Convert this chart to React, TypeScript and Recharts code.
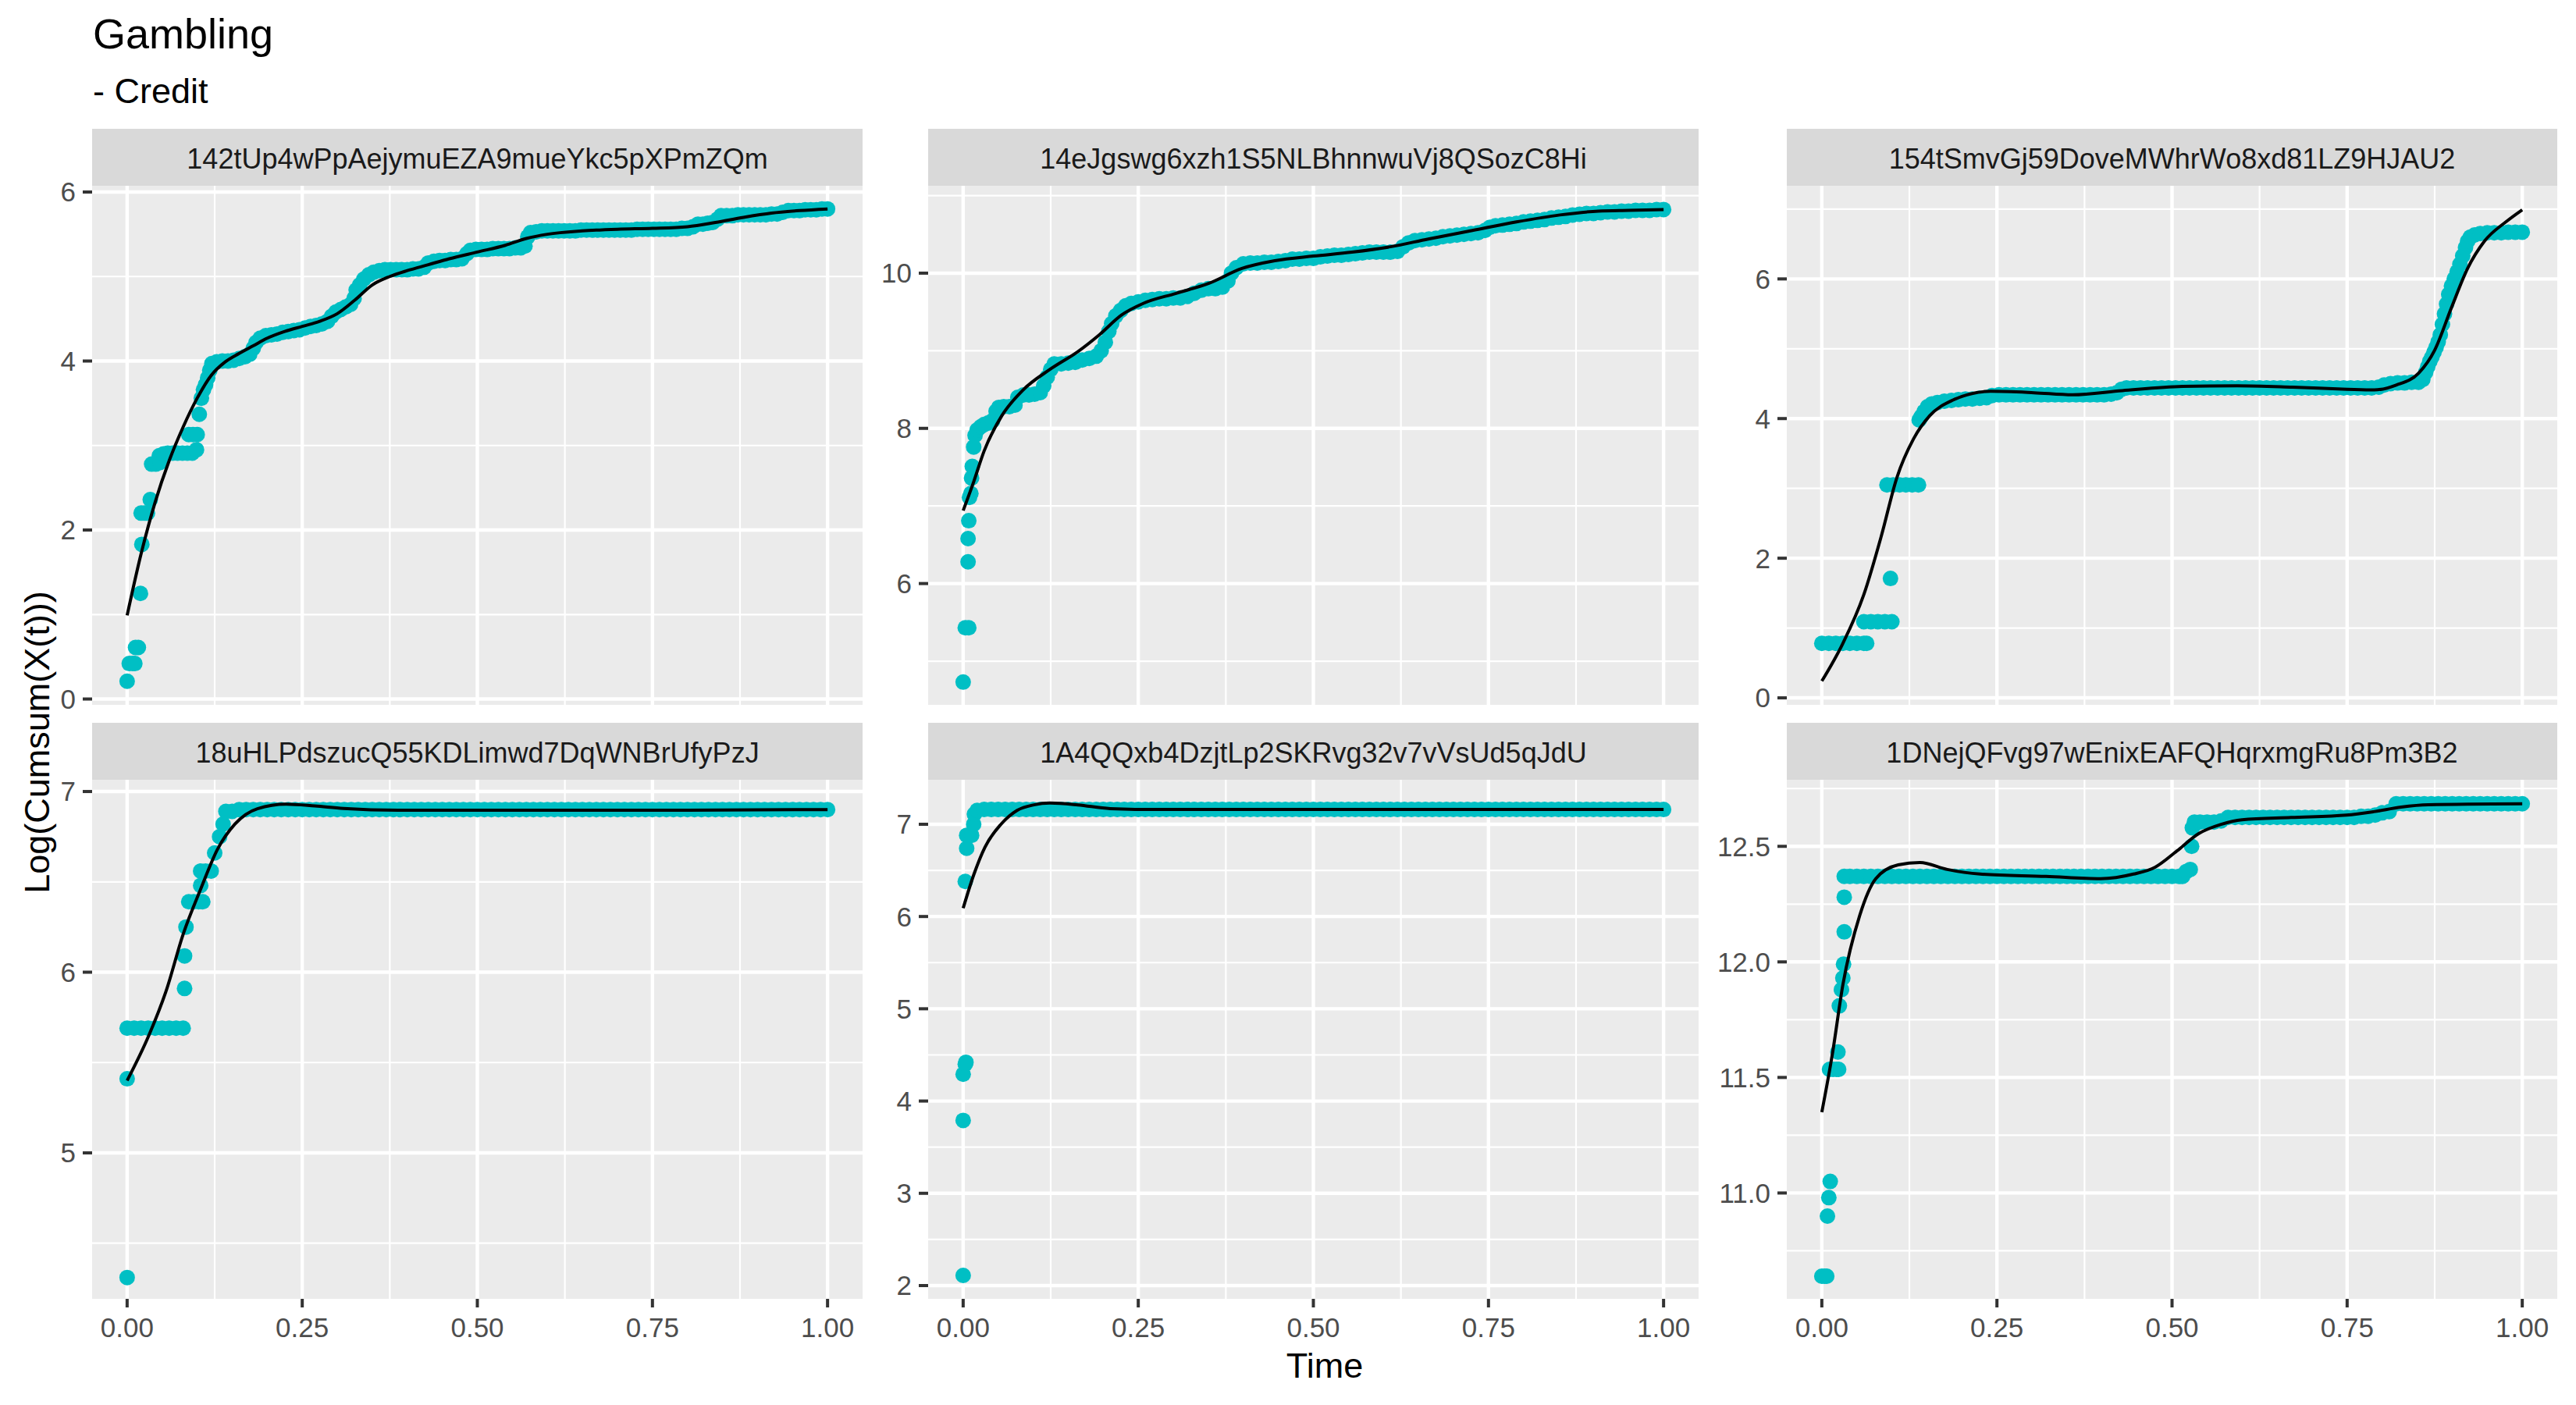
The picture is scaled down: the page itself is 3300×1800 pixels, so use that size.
import { ComposedChart, Scatter, Line, XAxis, YAxis, CartesianGrid } from "recharts"

type Pair = [number, number]

const walletIds = [
  "142tUp4wPpAejymuEZA9mueYkc5pXPmZQm",
  "14eJgswg6xzh1S5NLBhnnwuVj8QSozC8Hi",
  "154tSmvGj59DoveMWhrWo8xd81LZ9HJAU2",
  "18uHLPdszucQ55KDLimwd7DqWNBrUfyPzJ",
  "1A4QQxb4DzjtLp2SKRvg32v7vVsUd5qJdU",
  "1DNejQFvg97wEnixEAFQHqrxmgRu8Pm3B2",
]

// observed log cumulative sums, [time, value]
const pts142: Pair[] = [
  [0, 0.21], [0.003, 0.42], [0.008, 0.42], [0.011, 0.42], [0.012, 0.61], [0.016, 0.61], [0.019, 1.25], [0.021, 1.83],
  [0.02, 2.2], [0.025, 2.2], [0.029, 2.2], [0.033, 2.36], [0.035, 2.78], [0.041, 2.78], [0.047, 2.8], [0.046, 2.88],
  [0.052, 2.9], [0.058, 2.91], [0.065, 2.91], [0.072, 2.91], [0.079, 2.91], [0.086, 2.91], [0.093, 2.91], [0.099, 2.95],
  [0.088, 3.13], [0.094, 3.13], [0.1, 3.13], [0.103, 3.37], [0.106, 3.56], [0.109, 3.66], [0.112, 3.72], [0.115, 3.8],
  [0.118, 3.89], [0.121, 3.97], [0.128, 3.99], [0.136, 4.0], [0.144, 4.0], [0.152, 4.01], [0.16, 4.03], [0.168, 4.05],
  [0.175, 4.08], [0.18, 4.15], [0.184, 4.22], [0.19, 4.27], [0.198, 4.3], [0.206, 4.31], [0.214, 4.32], [0.222, 4.34],
  [0.23, 4.35], [0.238, 4.36], [0.246, 4.37], [0.254, 4.39], [0.262, 4.41], [0.27, 4.42], [0.278, 4.44], [0.286, 4.47],
  [0.292, 4.53], [0.298, 4.58], [0.305, 4.61], [0.312, 4.64], [0.319, 4.67], [0.324, 4.74], [0.327, 4.84], [0.332, 4.9],
  [0.338, 4.97], [0.345, 5.02], [0.352, 5.05], [0.36, 5.07], [0.368, 5.08], [0.376, 5.08], [0.384, 5.08], [0.392, 5.08],
  [0.4, 5.08], [0.408, 5.09], [0.416, 5.09], [0.424, 5.11], [0.43, 5.16], [0.438, 5.18], [0.446, 5.19], [0.454, 5.19],
  [0.462, 5.2], [0.47, 5.2], [0.478, 5.21], [0.485, 5.27], [0.49, 5.31], [0.498, 5.32], [0.506, 5.32], [0.514, 5.32],
  [0.522, 5.33], [0.53, 5.33], [0.538, 5.33], [0.546, 5.33], [0.554, 5.34], [0.562, 5.34], [0.568, 5.36], [0.572, 5.47],
  [0.576, 5.52], [0.584, 5.53], [0.592, 5.54], [0.6, 5.54], [0.608, 5.54], [0.616, 5.54], [0.624, 5.54], [0.632, 5.54],
  [0.64, 5.54], [0.648, 5.55], [0.656, 5.55], [0.664, 5.55], [0.672, 5.55], [0.68, 5.55], [0.688, 5.55], [0.696, 5.55],
  [0.704, 5.55], [0.712, 5.55], [0.72, 5.55], [0.728, 5.56], [0.736, 5.56], [0.744, 5.56], [0.752, 5.56], [0.76, 5.56],
  [0.768, 5.56], [0.776, 5.56], [0.784, 5.56], [0.792, 5.57], [0.8, 5.57], [0.808, 5.59], [0.815, 5.62], [0.822, 5.62],
  [0.829, 5.63], [0.836, 5.64], [0.843, 5.68], [0.848, 5.72], [0.856, 5.72], [0.864, 5.72], [0.872, 5.73], [0.88, 5.73],
  [0.888, 5.73], [0.896, 5.73], [0.904, 5.73], [0.912, 5.73], [0.92, 5.74], [0.928, 5.74], [0.936, 5.76], [0.944, 5.78],
  [0.952, 5.78], [0.96, 5.78], [0.968, 5.79], [0.976, 5.79], [0.984, 5.79], [0.992, 5.8], [1, 5.8],
]

const pts14e: Pair[] = [
  [0, 4.73], [0.003, 5.43], [0.008, 5.43], [0.007, 6.28], [0.007, 6.58], [0.008, 6.81], [0.009, 7.11], [0.011, 7.16],
  [0.012, 7.36], [0.013, 7.51], [0.015, 7.76], [0.017, 7.91], [0.02, 7.98], [0.025, 8.02], [0.03, 8.05], [0.036, 8.07],
  [0.042, 8.1], [0.047, 8.22], [0.051, 8.27], [0.058, 8.28], [0.066, 8.28], [0.074, 8.3], [0.078, 8.4], [0.086, 8.43],
  [0.094, 8.43], [0.102, 8.44], [0.11, 8.46], [0.115, 8.55], [0.12, 8.66], [0.125, 8.76], [0.13, 8.83], [0.14, 8.83],
  [0.15, 8.84], [0.16, 8.85], [0.17, 8.88], [0.18, 8.9], [0.19, 8.93], [0.197, 9.0], [0.203, 9.11], [0.208, 9.25],
  [0.212, 9.35], [0.218, 9.45], [0.225, 9.52], [0.232, 9.58], [0.24, 9.61], [0.25, 9.63], [0.26, 9.65], [0.27, 9.66],
  [0.28, 9.67], [0.29, 9.67], [0.3, 9.68], [0.31, 9.68], [0.32, 9.7], [0.33, 9.74], [0.34, 9.78], [0.35, 9.8],
  [0.36, 9.8], [0.37, 9.82], [0.378, 9.9], [0.383, 10.0], [0.39, 10.07], [0.4, 10.12], [0.41, 10.13], [0.42, 10.13],
  [0.43, 10.14], [0.44, 10.14], [0.45, 10.15], [0.46, 10.16], [0.47, 10.18], [0.48, 10.18], [0.49, 10.19], [0.5, 10.19],
  [0.51, 10.21], [0.52, 10.22], [0.53, 10.23], [0.54, 10.23], [0.55, 10.24], [0.56, 10.25], [0.57, 10.26], [0.58, 10.27],
  [0.59, 10.27], [0.6, 10.27], [0.61, 10.27], [0.62, 10.28], [0.628, 10.34], [0.636, 10.39], [0.645, 10.42], [0.655, 10.43],
  [0.665, 10.44], [0.675, 10.45], [0.685, 10.47], [0.695, 10.48], [0.705, 10.49], [0.715, 10.5], [0.725, 10.51], [0.735, 10.52],
  [0.745, 10.55], [0.752, 10.59], [0.76, 10.61], [0.77, 10.62], [0.78, 10.63], [0.79, 10.64], [0.8, 10.66], [0.81, 10.67],
  [0.82, 10.68], [0.83, 10.69], [0.84, 10.71], [0.85, 10.72], [0.86, 10.73], [0.87, 10.75], [0.88, 10.76], [0.89, 10.77],
  [0.9, 10.77], [0.91, 10.78], [0.92, 10.79], [0.93, 10.79], [0.94, 10.8], [0.95, 10.8], [0.96, 10.81], [0.97, 10.81],
  [0.98, 10.81], [0.99, 10.82], [1, 10.82],
]

const pts154: Pair[] = [
  [0, 0.78], [0.01, 0.78], [0.02, 0.78], [0.03, 0.78], [0.04, 0.78], [0.05, 0.78], [0.06, 0.78], [0.064, 0.78],
  [0.06, 1.09], [0.07, 1.09], [0.08, 1.09], [0.09, 1.09], [0.1, 1.09], [0.098, 1.71],
  [0.093, 3.05], [0.102, 3.05], [0.111, 3.05], [0.12, 3.05], [0.129, 3.05], [0.138, 3.05],
  [0.139, 3.98], [0.142, 4.03], [0.146, 4.1], [0.151, 4.17], [0.157, 4.21], [0.165, 4.23], [0.175, 4.25], [0.185, 4.26],
  [0.195, 4.27], [0.205, 4.28], [0.215, 4.28], [0.225, 4.29], [0.235, 4.3], [0.243, 4.33], [0.253, 4.34], [0.263, 4.34],
  [0.273, 4.34], [0.283, 4.34], [0.293, 4.34], [0.303, 4.34], [0.313, 4.34], [0.323, 4.34], [0.333, 4.34], [0.343, 4.34],
  [0.353, 4.34], [0.363, 4.34], [0.373, 4.34], [0.383, 4.34], [0.393, 4.34], [0.403, 4.34], [0.413, 4.35], [0.421, 4.37],
  [0.428, 4.42], [0.435, 4.44], [0.445, 4.44], [0.455, 4.44], [0.465, 4.44], [0.475, 4.44], [0.485, 4.44], [0.495, 4.44],
  [0.505, 4.44], [0.515, 4.44], [0.525, 4.44], [0.535, 4.44], [0.545, 4.44], [0.555, 4.44], [0.565, 4.44], [0.575, 4.44],
  [0.585, 4.44], [0.595, 4.44], [0.605, 4.44], [0.615, 4.44], [0.625, 4.44], [0.635, 4.44], [0.645, 4.44], [0.655, 4.44],
  [0.665, 4.44], [0.675, 4.44], [0.685, 4.44], [0.695, 4.44], [0.705, 4.44], [0.715, 4.44], [0.725, 4.44], [0.735, 4.44],
  [0.745, 4.44], [0.755, 4.44], [0.765, 4.44], [0.775, 4.44], [0.785, 4.44], [0.795, 4.45], [0.803, 4.48], [0.812, 4.5],
  [0.822, 4.51], [0.832, 4.51], [0.842, 4.52], [0.852, 4.52], [0.858, 4.56], [0.862, 4.66], [0.865, 4.74], [0.868, 4.82],
  [0.871, 4.88], [0.874, 4.95], [0.877, 5.02], [0.88, 5.1], [0.883, 5.2], [0.886, 5.35], [0.889, 5.5], [0.892, 5.64],
  [0.895, 5.78], [0.899, 5.9], [0.903, 6.0], [0.907, 6.1], [0.911, 6.21], [0.915, 6.33], [0.919, 6.45], [0.922, 6.54],
  [0.926, 6.6], [0.932, 6.63], [0.94, 6.65], [0.95, 6.66], [0.96, 6.66], [0.97, 6.66], [0.98, 6.67], [0.99, 6.67], [1, 6.67],
]

const pts18u: Pair[] = [
  [0, 4.31], [0, 5.41], [0, 5.69], [0.01, 5.69], [0.02, 5.69], [0.03, 5.69], [0.04, 5.69], [0.05, 5.69],
  [0.06, 5.69], [0.07, 5.69], [0.08, 5.69], [0.082, 5.91], [0.082, 6.09], [0.084, 6.25], [0.088, 6.39], [0.095, 6.39],
  [0.102, 6.39], [0.108, 6.39], [0.105, 6.48], [0.105, 6.56], [0.112, 6.56], [0.12, 6.56], [0.125, 6.66], [0.132, 6.75],
  [0.137, 6.82], [0.141, 6.89], [0.15, 6.89], [0.16, 6.9], [0.17, 6.9], [0.18, 6.9], [0.19, 6.9], [0.2, 6.9],
  [0.21, 6.9], [0.22, 6.9], [0.23, 6.9], [0.24, 6.9], [0.25, 6.9], [0.26, 6.9], [0.27, 6.9], [0.28, 6.9],
  [0.29, 6.9], [0.3, 6.9], [0.31, 6.9], [0.32, 6.9], [0.33, 6.9], [0.34, 6.9], [0.35, 6.9], [0.36, 6.9],
  [0.37, 6.9], [0.38, 6.9], [0.39, 6.9], [0.4, 6.9], [0.41, 6.9], [0.42, 6.9], [0.43, 6.9], [0.44, 6.9],
  [0.45, 6.9], [0.46, 6.9], [0.47, 6.9], [0.48, 6.9], [0.49, 6.9], [0.5, 6.9], [0.51, 6.9], [0.52, 6.9],
  [0.53, 6.9], [0.54, 6.9], [0.55, 6.9], [0.56, 6.9], [0.57, 6.9], [0.58, 6.9], [0.59, 6.9], [0.6, 6.9],
  [0.61, 6.9], [0.62, 6.9], [0.63, 6.9], [0.64, 6.9], [0.65, 6.9], [0.66, 6.9], [0.67, 6.9], [0.68, 6.9],
  [0.69, 6.9], [0.7, 6.9], [0.71, 6.9], [0.72, 6.9], [0.73, 6.9], [0.74, 6.9], [0.75, 6.9], [0.76, 6.9],
  [0.77, 6.9], [0.78, 6.9], [0.79, 6.9], [0.8, 6.9], [0.81, 6.9], [0.82, 6.9], [0.83, 6.9], [0.84, 6.9],
  [0.85, 6.9], [0.86, 6.9], [0.87, 6.9], [0.88, 6.9], [0.89, 6.9], [0.9, 6.9], [0.91, 6.9], [0.92, 6.9],
  [0.93, 6.9], [0.94, 6.9], [0.95, 6.9], [0.96, 6.9], [0.97, 6.9], [0.98, 6.9], [0.99, 6.9], [1, 6.9],
]

const pts1A4: Pair[] = [
  [0, 2.11], [0, 3.79], [0, 4.29], [0.003, 4.4], [0.004, 4.42], [0.003, 6.38], [0.005, 6.74], [0.005, 6.88],
  [0.012, 6.88], [0.015, 7.0], [0.016, 7.11], [0.02, 7.15], [0.03, 7.16], [0.04, 7.16], [0.05, 7.16], [0.06, 7.16],
  [0.07, 7.16], [0.08, 7.16], [0.09, 7.16], [0.1, 7.16], [0.11, 7.16], [0.12, 7.16], [0.13, 7.16], [0.14, 7.16],
  [0.15, 7.16], [0.16, 7.16], [0.17, 7.16], [0.18, 7.16], [0.19, 7.16], [0.2, 7.16], [0.21, 7.16], [0.22, 7.16],
  [0.23, 7.16], [0.24, 7.16], [0.25, 7.16], [0.26, 7.16], [0.27, 7.16], [0.28, 7.16], [0.29, 7.16], [0.3, 7.16],
  [0.31, 7.16], [0.32, 7.16], [0.33, 7.16], [0.34, 7.16], [0.35, 7.16], [0.36, 7.16], [0.37, 7.16], [0.38, 7.16],
  [0.39, 7.16], [0.4, 7.16], [0.41, 7.16], [0.42, 7.16], [0.43, 7.16], [0.44, 7.16], [0.45, 7.16], [0.46, 7.16],
  [0.47, 7.16], [0.48, 7.16], [0.49, 7.16], [0.5, 7.16], [0.51, 7.16], [0.52, 7.16], [0.53, 7.16], [0.54, 7.16],
  [0.55, 7.16], [0.56, 7.16], [0.57, 7.16], [0.58, 7.16], [0.59, 7.16], [0.6, 7.16], [0.61, 7.16], [0.62, 7.16],
  [0.63, 7.16], [0.64, 7.16], [0.65, 7.16], [0.66, 7.16], [0.67, 7.16], [0.68, 7.16], [0.69, 7.16], [0.7, 7.16],
  [0.71, 7.16], [0.72, 7.16], [0.73, 7.16], [0.74, 7.16], [0.75, 7.16], [0.76, 7.16], [0.77, 7.16], [0.78, 7.16],
  [0.79, 7.16], [0.8, 7.16], [0.81, 7.16], [0.82, 7.16], [0.83, 7.16], [0.84, 7.16], [0.85, 7.16], [0.86, 7.16],
  [0.87, 7.16], [0.88, 7.16], [0.89, 7.16], [0.9, 7.16], [0.91, 7.16], [0.92, 7.16], [0.93, 7.16], [0.94, 7.16],
  [0.95, 7.16], [0.96, 7.16], [0.97, 7.16], [0.98, 7.16], [0.99, 7.16], [1, 7.16],
]

const pts1DN: Pair[] = [
  [0, 10.64], [0.004, 10.64], [0.007, 10.64], [0.008, 10.9], [0.01, 10.98], [0.012, 11.05], [0.011, 11.535], [0.016, 11.535],
  [0.021, 11.535], [0.024, 11.535], [0.023, 11.61], [0.025, 11.81], [0.028, 11.88], [0.03, 11.93], [0.031, 11.99], [0.032, 12.13],
  [0.032, 12.28], [0.032, 12.37], [0.04, 12.37], [0.05, 12.37], [0.06, 12.37], [0.07, 12.37], [0.08, 12.37], [0.09, 12.37],
  [0.1, 12.37], [0.11, 12.37], [0.12, 12.37], [0.13, 12.37], [0.14, 12.37], [0.15, 12.37], [0.16, 12.37], [0.17, 12.37],
  [0.18, 12.37], [0.19, 12.37], [0.2, 12.37], [0.21, 12.37], [0.22, 12.37], [0.23, 12.37], [0.24, 12.37], [0.25, 12.37],
  [0.26, 12.37], [0.27, 12.37], [0.28, 12.37], [0.29, 12.37], [0.3, 12.37], [0.31, 12.37], [0.32, 12.37], [0.33, 12.37],
  [0.34, 12.37], [0.35, 12.37], [0.36, 12.37], [0.37, 12.37], [0.38, 12.37], [0.39, 12.37], [0.4, 12.37], [0.41, 12.37],
  [0.42, 12.37], [0.43, 12.37], [0.44, 12.37], [0.45, 12.37], [0.46, 12.37], [0.47, 12.37], [0.48, 12.37], [0.49, 12.37],
  [0.5, 12.37], [0.51, 12.37], [0.515, 12.37], [0.52, 12.39], [0.526, 12.4], [0.528, 12.5], [0.529, 12.58], [0.532, 12.605],
  [0.54, 12.605], [0.55, 12.605], [0.56, 12.605], [0.57, 12.61], [0.58, 12.625], [0.59, 12.625], [0.6, 12.625], [0.61, 12.625],
  [0.62, 12.625], [0.63, 12.625], [0.64, 12.625], [0.65, 12.625], [0.66, 12.625], [0.67, 12.625], [0.68, 12.625], [0.69, 12.625],
  [0.7, 12.625], [0.71, 12.625], [0.72, 12.625], [0.73, 12.625], [0.74, 12.625], [0.75, 12.625], [0.76, 12.625], [0.77, 12.63],
  [0.78, 12.63], [0.79, 12.635], [0.8, 12.645], [0.81, 12.65], [0.82, 12.684], [0.83, 12.684], [0.84, 12.684], [0.85, 12.684],
  [0.86, 12.684], [0.87, 12.684], [0.88, 12.684], [0.89, 12.684], [0.9, 12.684], [0.91, 12.684], [0.92, 12.684], [0.93, 12.684],
  [0.94, 12.684], [0.95, 12.684], [0.96, 12.684], [0.97, 12.684], [0.98, 12.684], [0.99, 12.684], [1, 12.684],
]

// smoothed fits, [time, value]
const fit142: Pair[] = [
  [0, 0.99], [0.02, 1.72], [0.04, 2.33], [0.06, 2.82], [0.08, 3.22], [0.1, 3.56], [0.12, 3.83], [0.14, 3.99],
  [0.16, 4.09], [0.18, 4.18], [0.2, 4.27], [0.225, 4.35], [0.25, 4.41], [0.275, 4.47], [0.3, 4.56], [0.325, 4.72],
  [0.35, 4.9], [0.375, 5.0], [0.4, 5.07], [0.43, 5.14], [0.46, 5.21], [0.5, 5.29], [0.54, 5.37], [0.57, 5.45],
  [0.6, 5.5], [0.65, 5.54], [0.7, 5.56], [0.75, 5.57], [0.8, 5.59], [0.84, 5.64], [0.88, 5.7], [0.92, 5.75],
  [0.96, 5.78], [1, 5.8],
]
const fit14e: Pair[] = [
  [0, 6.94], [0.015, 7.31], [0.03, 7.71], [0.055, 8.16], [0.085, 8.49], [0.124, 8.76], [0.164, 8.99], [0.195, 9.21],
  [0.226, 9.46], [0.257, 9.61], [0.304, 9.74], [0.351, 9.87], [0.398, 10.06], [0.445, 10.16], [0.5, 10.22], [0.555, 10.27],
  [0.61, 10.34], [0.664, 10.44], [0.727, 10.55], [0.79, 10.66], [0.852, 10.75], [0.907, 10.8], [0.95, 10.81], [1, 10.82],
]
const fit154: Pair[] = [
  [0, 0.24], [0.03, 0.78], [0.06, 1.48], [0.085, 2.32], [0.107, 3.15], [0.131, 3.71], [0.154, 4.04], [0.186, 4.26],
  [0.241, 4.39], [0.303, 4.37], [0.358, 4.34], [0.429, 4.4], [0.515, 4.46], [0.593, 4.47], [0.672, 4.45], [0.75, 4.42],
  [0.789, 4.41], [0.82, 4.48], [0.852, 4.65], [0.875, 4.98], [0.899, 5.59], [0.922, 6.15], [0.946, 6.54], [0.977, 6.82],
  [1, 6.99],
]
const fit18u: Pair[] = [
  [0, 5.4], [0.031, 5.65], [0.056, 5.9], [0.08, 6.21], [0.105, 6.46], [0.129, 6.68], [0.154, 6.82], [0.186, 6.905],
  [0.227, 6.93], [0.268, 6.92], [0.309, 6.906], [0.39, 6.896], [0.6, 6.897], [0.8, 6.897], [1, 6.9],
]
const fit1A4: Pair[] = [
  [0, 6.09], [0.015, 6.45], [0.031, 6.75], [0.054, 7.0], [0.077, 7.15], [0.101, 7.21], [0.124, 7.23], [0.164, 7.21],
  [0.21, 7.17], [0.281, 7.16], [0.5, 7.16], [0.75, 7.16], [1, 7.16],
]
const fit1DN: Pair[] = [
  [0, 11.35], [0.015, 11.6], [0.03, 11.9], [0.054, 12.2], [0.077, 12.36], [0.109, 12.42], [0.14, 12.43], [0.179, 12.4],
  [0.226, 12.38], [0.32, 12.37], [0.398, 12.36], [0.445, 12.38], [0.476, 12.41], [0.507, 12.48], [0.538, 12.555], [0.57, 12.595],
  [0.6, 12.615], [0.67, 12.625], [0.749, 12.635], [0.788, 12.65], [0.827, 12.67], [0.866, 12.68], [1, 12.684],
]

const yDomains: Pair[] = [[-0.069, 6.074], [4.437, 11.126], [-0.1, 7.334], [4.192, 7.065], [1.856, 7.482], [10.542, 12.788]]
const yMajor = [[0, 2, 4, 6], [6, 8, 10], [0, 2, 4, 6], [5, 6, 7], [2, 3, 4, 5, 6, 7], [11, 11.5, 12, 12.5]]
const yMinor = [[1, 3, 5], [5, 7, 9, 11], [1, 3, 5, 7], [4.5, 5.5, 6.5], [2.5, 3.5, 4.5, 5.5, 6.5], [10.75, 11.25, 11.75, 12.25, 12.75]]
const yDecimals = [0, 0, 0, 0, 0, 1]
const xMajor = [0, 0.25, 0.5, 0.75, 1]
const xMinor = [0.125, 0.375, 0.625, 0.875]

const allPoints = [pts142, pts14e, pts154, pts18u, pts1A4, pts1DN]
const allFits = [fit142, fit14e, fit154, fit18u, fit1A4, fit1DN]

const TEAL = "#00BFC4"
const FONT = '"Liberation Sans", Arial, Helvetica, sans-serif'
const PANEL_W = 987
const PANEL_H = 665
const AXIS_W = 110
const XAXIS_H = 90
const PAD = 24
const colLeft = [118, 1189, 2289]
const rowTop = [238, 999]
const stripTop = [165, 926]
const STRIP_H = 73

const Dot = (p: any) => <circle cx={p.cx} cy={p.cy} r={10} fill={TEAL} />

function Panel({ i }: { i: number }) {
  const col = i % 3
  const row = Math.floor(i / 3)
  const showX = row === 1
  const pts = allPoints[i].map(([t, y]) => ({ t, y }))
  const fit = allFits[i].map(([t, y]) => ({ t, y }))
  const tickStyle = { fill: "#4D4D4D", fontSize: 35, fontFamily: FONT }
  const tickLine = { stroke: "#333333", strokeWidth: 4 }
  return (
    <div style={{ position: "absolute", left: colLeft[col] - AXIS_W, top: rowTop[row] - PAD }}>
      <ComposedChart
        width={AXIS_W + PANEL_W}
        height={PAD + PANEL_H + (showX ? XAXIS_H : PAD)}
        margin={{ top: PAD, right: 0, bottom: showX ? 0 : PAD, left: 0 }}
      >
        <CartesianGrid
          fill="#EBEBEB"
          stroke="#FFFFFF"
          strokeWidth={2.2}
          horizontalValues={yMinor[i]}
          verticalValues={xMinor}
        />
        <CartesianGrid stroke="#FFFFFF" strokeWidth={4.4} horizontalValues={yMajor[i]} verticalValues={xMajor} />
        <XAxis
          type="number"
          dataKey="t"
          domain={[-0.05, 1.05]}
          ticks={xMajor}
          interval={0}
          allowDataOverflow
          hide={!showX}
          height={showX ? XAXIS_H : 0}
          tickFormatter={(v: number) => v.toFixed(2)}
          tick={tickStyle}
          tickLine={tickLine}
          tickSize={11}
          tickMargin={13}
          axisLine={false}
        />
        <YAxis
          type="number"
          dataKey="y"
          domain={yDomains[i]}
          ticks={yMajor[i]}
          interval={0}
          allowDataOverflow
          width={AXIS_W}
          tickFormatter={(v: number) => v.toFixed(yDecimals[i])}
          tick={tickStyle}
          tickLine={tickLine}
          tickSize={12}
          tickMargin={9}
          axisLine={false}
        />
        <Scatter data={pts} shape={Dot} isAnimationActive={false} zIndex={400} />
        <Line
          data={fit}
          dataKey="y"
          type="monotone"
          stroke="#000000"
          strokeWidth={4}
          dot={false}
          activeDot={false}
          isAnimationActive={false}
          zIndex={900}
        />
      </ComposedChart>
    </div>
  )
}

export default function App() {
  return (
    <div style={{ position: "absolute", left: 0, top: 0, width: 3300, height: 1800, background: "#FFFFFF" }}>
      <svg width={3300} height={1800} style={{ position: "absolute", left: 0, top: 0 }} fontFamily={FONT}>
        <text x={119} y={62} fontSize={54} fill="#000000">Gambling</text>
        <text x={119} y={132} fontSize={45} fill="#000000">- Credit</text>
        {walletIds.map((id, i) => {
          const x = colLeft[i % 3]
          const y = stripTop[Math.floor(i / 3)]
          return (
            <g key={id}>
              <rect x={x} y={y} width={PANEL_W} height={STRIP_H} fill="#D9D9D9" />
              <text x={x + PANEL_W / 2} y={y + 51} fontSize={36} fill="#1A1A1A" textAnchor="middle">{id}</text>
            </g>
          )
        })}
        <text x={1697} y={1765} fontSize={45} fill="#000000" textAnchor="middle">Time</text>
        <text x={63} y={951} fontSize={45} fill="#000000" textAnchor="middle" transform="rotate(-90, 63, 951)">
          Log(Cumsum(X(t)))
        </text>
      </svg>
      {walletIds.map((id, i) => <Panel key={id} i={i} />)}
    </div>
  )
}
